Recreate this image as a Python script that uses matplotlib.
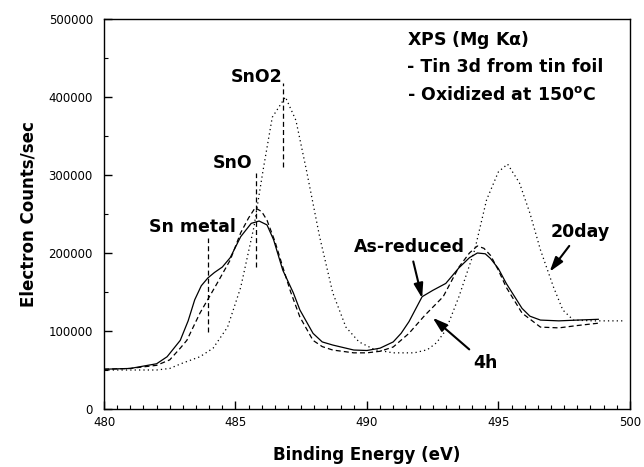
import numpy as np
import matplotlib.pyplot as plt
from matplotlib.ticker import MultipleLocator

# binding energy (eV) / counts
# as-reduced (solid)
e_red = [480.0, 481.0, 482.0, 482.4, 482.9, 483.2, 483.45, 483.7, 483.95, 484.2,
         484.5, 484.8, 485.2, 485.6, 485.9, 486.2, 486.45, 486.8, 487.2, 487.45,
         487.95, 488.3, 488.7, 489.5, 490.0, 490.5, 491.0, 491.3, 491.6, 492.1,
         492.5, 493.0, 493.5, 493.9, 494.2, 494.5, 494.7, 495.0, 495.3, 495.6,
         495.9, 496.2, 496.6, 497.3, 498.0, 498.8]
i_red = [51000, 52000, 58000, 67000, 88000, 113000, 140000, 158000, 168000, 175000,
         182000, 194000, 221000, 238000, 241000, 236000, 217000, 178000, 149000, 127000,
         97000, 86000, 82000, 75600, 75000, 78000, 86000, 97000, 112000, 144000,
         152000, 161000, 181000, 194000, 200000, 199000, 193000, 180000, 161000, 145000,
         129000, 119000, 114000, 113000, 114000, 115000]

# 4h (dashed)
e_4h = [480.0, 481.0, 482.0, 482.5, 482.9, 483.15, 483.65, 484.3, 484.8, 485.2,
        485.5, 485.75, 486.0, 486.2, 486.5, 486.8, 487.1, 487.45, 487.95, 488.3,
        488.7, 489.5, 490.0, 490.5, 491.0, 491.6, 492.2, 492.9, 493.5, 493.9,
        494.2, 494.45, 494.7, 495.0, 495.3, 495.9, 496.6, 497.3, 498.0, 498.8]
i_4h = [51000, 52000, 56000, 63000, 78000, 88000, 123000, 161000, 191000, 226000,
        245000, 258000, 253000, 242000, 215000, 182000, 150000, 118000, 88000, 80000,
        75600, 72000, 72000, 74000, 79500, 97000, 120000, 144000, 182000, 200000,
        209000, 206000, 197000, 178000, 156000, 123000, 105000, 104000, 107000, 110000]

# 20day (dotted)
e_20d = [480.0, 481.0, 482.0, 482.5, 483.0, 483.65, 484.15, 484.7, 485.2, 485.7,
         486.05, 486.4, 486.9, 487.3, 487.7, 488.2, 488.7, 489.2, 489.7, 490.3,
         491.0, 491.8, 492.3, 492.65, 493.0, 493.5, 494.1, 494.55, 495.0, 495.35,
         495.8, 496.2, 496.6, 497.1, 497.45, 497.85, 498.6, 499.75]
i_20d = [50000, 50000, 50000, 52000, 59000, 67000, 78000, 105000, 156000, 233000,
         306000, 374000, 400000, 370000, 306000, 221000, 149000, 105000, 86000, 76000,
         72000, 72000, 76000, 85000, 101000, 144000, 204000, 268000, 304000, 314000,
         290000, 251000, 204000, 156000, 127000, 114000, 113000, 113000]

# peak position markers: energy, bottom, top
mark_e = [483.95, 485.8, 486.8]
mark_lo = [99000, 182000, 310000]
mark_hi = [219000, 303000, 418000]

fig = plt.figure(figsize=(6.44, 4.67), dpi=100)
ax = fig.add_axes([0.1615, 0.1242, 0.8165, 0.8351])

ax.plot(e_red, i_red, color="black", lw=0.9, ls="-")
ax.plot(e_4h, i_4h, color="black", lw=0.9, ls=(0, (4, 2.5)))
ax.plot(e_20d, i_20d, color="black", lw=0.9, ls=(0, (1, 2.5)))
ax.vlines(mark_e, mark_lo, mark_hi, color="black", lw=0.9, ls=(0, (4, 2.5)))

ax.set_xlim(480, 500)
ax.set_ylim(0, 500000)
ax.xaxis.set_major_locator(MultipleLocator(5))
ax.xaxis.set_minor_locator(MultipleLocator(0.5))
ax.yaxis.set_major_locator(MultipleLocator(100000))
ax.yaxis.set_minor_locator(MultipleLocator(50000))
ax.tick_params(which="both", direction="in", labelsize=8.5, color="black")
ax.tick_params(which="major", length=6, width=1)
ax.tick_params(which="minor", length=3, width=0.8)
ax.tick_params(axis="y", pad=8)
ax.tick_params(axis="x", pad=5)
for s in ax.spines.values():
    s.set_linewidth(1.0)

lab = dict(fontsize=12, fontweight="bold", family="DejaVu Sans")
ax.set_xlabel("Binding Energy (eV)", labelpad=12, **lab)
ax.set_ylabel("Electron Counts/sec", labelpad=8, **lab)

tx = dict(fontsize=12.5, fontweight="bold", family="DejaVu Sans", ha="center", va="center")
ax.text(485.82, 425600, "SnO2", **tx)
ax.text(484.9, 315000, "SnO", **tx)
ax.text(483.38, 233000, "Sn metal", **tx)

box = dict(fontsize=12.5, fontweight="bold", family="DejaVu Sans", ha="left", va="center")
ax.text(491.52, 473000, r"XPS (Mg K$\mathbf{\alpha}$)", **box)
ax.text(491.52, 438500, "- Tin 3d from tin foil", **box)
ax.text(491.52, 402600, "- Oxidized at 150$^\\mathbf{o}$C", **box)

arr = dict(arrowstyle="-|>,head_length=0.7,head_width=0.22", color="black", lw=1.5,
           shrinkA=2, shrinkB=0)
ax.annotate("As-reduced", xy=(492.1, 142000), xytext=(491.63, 207700),
            arrowprops=arr, **tx)
ax.annotate("4h", xy=(492.5, 117000), xytext=(494.49, 59000),
            arrowprops=arr, **tx)
ax.annotate("20day", xy=(496.95, 176000), xytext=(498.1, 227000),
            arrowprops=arr, **tx)

plt.savefig("out.png", dpi=100)
plt.close()
